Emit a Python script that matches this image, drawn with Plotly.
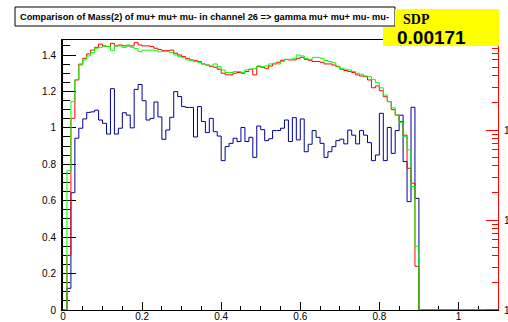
import plotly.graph_objects as go

# ---------------- data (bin width 0.01, bins start at 0) ----------------
bin_width = 0.01

blue_values = [
    0.0, 0.119, 0.644, 0.943, 0.998, 1.049, 1.085, 1.088, 1.097, 1.043,
    1.025, 0.966, 1.215, 0.966, 0.998, 1.083, 1.07, 1.0, 1.211, 1.238,
    1.149, 1.043, 1.052, 1.142, 1.06, 0.937, 0.988, 1.058, 1.199, 1.172,
    1.117, 1.112, 1.112, 0.95, 1.117, 1.035, 0.974, 1.052, 0.979, 0.955,
    0.82, 0.897, 0.915, 0.943, 0.925, 1.002, 0.925, 0.948, 0.838, 1.01,
    0.99, 0.93, 0.94, 0.985, 0.985, 0.998, 1.043, 0.925, 1.056, 0.934,
    1.049, 0.869, 0.91, 0.985, 0.948, 0.915, 0.838, 0.869, 0.897, 0.93,
    0.938, 0.912, 0.988, 0.96, 0.912, 0.985, 0.96, 0.919, 0.82, 0.851,
    1.08, 0.82, 1.002, 0.86, 0.985, 1.07, 0.815, 0.595, 1.113, 0.613,
    0, 0, 0, 0, 0, 0, 0, 0, 0, 0,
    0, 0, 0, 0, 0, 0, 0, 0, 0, 0,
]

red_values = [
    0.0, 0.30, 1.052, 1.263, 1.35, 1.382, 1.406, 1.427, 1.442, 1.46,
    1.45, 1.446, 1.464, 1.45, 1.455, 1.45, 1.45, 1.45, 1.468, 1.455,
    1.45, 1.45, 1.446, 1.437, 1.43, 1.424, 1.424, 1.427, 1.41, 1.4,
    1.391, 1.382, 1.373, 1.369, 1.364, 1.351, 1.345, 1.336, 1.333, 1.322,
    1.3, 1.291, 1.291, 1.3, 1.304, 1.3, 1.309, 1.322, 1.291, 1.336,
    1.333, 1.327, 1.34, 1.351, 1.36, 1.371, 1.376, 1.373, 1.373, 1.382,
    1.387, 1.376, 1.371, 1.364, 1.364, 1.36, 1.351, 1.351, 1.345, 1.336,
    1.322, 1.315, 1.309, 1.304, 1.291, 1.285, 1.281, 1.263, 1.22, 1.23,
    1.204, 1.171, 1.144, 1.10, 1.07, 1.035, 0.96, 0.778, 0.696, 0.24,
    0, 0, 0, 0, 0, 0, 0, 0, 0, 0,
    0, 0, 0, 0, 0, 0, 0, 0, 0, 0,
]

green_values = [
    0.0, 0.765, 1.144, 1.265, 1.345, 1.373, 1.395, 1.413, 1.437, 1.442,
    1.446, 1.446, 1.424, 1.45, 1.45, 1.442, 1.455, 1.442, 1.435, 1.418,
    1.427, 1.427, 1.427, 1.424, 1.418, 1.42, 1.42, 1.413, 1.4, 1.391,
    1.385, 1.373, 1.371, 1.364, 1.36, 1.351, 1.345, 1.34, 1.351, 1.336,
    1.318, 1.304, 1.304, 1.309, 1.309, 1.304, 1.318, 1.322, 1.327, 1.34,
    1.336, 1.34, 1.351, 1.355, 1.351, 1.364, 1.376, 1.376, 1.382, 1.4,
    1.395, 1.382, 1.376, 1.387, 1.387, 1.382, 1.37, 1.364, 1.358, 1.339,
    1.327, 1.322, 1.318, 1.309, 1.3, 1.295, 1.285, 1.281, 1.265, 1.248,
    1.22, 1.18, 1.144, 1.11, 1.07, 1.03, 0.952, 0.879, 0.678, 0.35,
    0, 0, 0, 0, 0, 0, 0, 0, 0, 0,
    0, 0, 0, 0, 0, 0, 0,
]

x_tick_vals = [0, 0.2, 0.4, 0.6, 0.8, 1.0]
x_tick_text = ["0", "0.2", "0.4", "0.6", "0.8", "1"]
y_tick_vals = [0, 0.2, 0.4, 0.6, 0.8, 1.0, 1.2, 1.4]
y_tick_text = ["0", "0.2", "0.4", "0.6", "0.8", "1", "1.2", "1.4"]
right_tick_vals = [1, 10, 100]
right_tick_text = ["1", "10", "100"]
right_minor_vals = [2, 3, 4, 5, 6, 7, 8, 9,
                    20, 30, 40, 50, 60, 70, 80, 90,
                    200, 300, 400, 500, 600, 700, 800, 900]

title_text = "Comparison of Mass(2) of mu+ mu+ mu- in channel 26 => gamma mu+ mu+ mu- mu-"
sdp_label = "SDP"
sdp_value = "0.00171"

# ---------------- layout geometry ----------------
W, H = 508, 322
ML, MR, MT, MB = 63, 10, 40, 12
PW, PH = W - ML - MR, H - MT - MB


def px(xp):
    return (xp - ML) / PW


def py(yp):
    return (H - MB - yp) / PH


def steps(values):
    edges = [round(i * bin_width, 4) for i in range(len(values) + 1)]
    return edges, list(values) + [values[-1]]


fig = go.Figure()
for vals, col in [(blue_values, "#000099"), (red_values, "#ff0000"), (green_values, "#00ff00")]:
    xs, ys = steps(vals)
    fig.add_trace(go.Scatter(x=xs, y=ys, mode="lines", line=dict(color=col, width=1, shape="hv"),
                             showlegend=False, hoverinfo="skip"))

axis_font = dict(family="Liberation Sans, Arial, sans-serif", size=10, color="black")

fig.update_layout(
    width=W, height=H,
    margin=dict(l=ML, r=MR, t=MT, b=MB, pad=0, autoexpand=False),
    paper_bgcolor="white", plot_bgcolor="white",
    showlegend=False,
    xaxis=dict(range=[0, 1.1], showgrid=False, zeroline=False, automargin=False,
               showline=True, linecolor="black", linewidth=1, mirror=True,
               ticks="inside", ticklen=8, tickcolor="black", tickwidth=1,
               tickvals=x_tick_vals, ticktext=x_tick_text, tickfont=axis_font,
               ticklabelstandoff=-3,
               minor=dict(ticks="inside", ticklen=4, tickcolor="black", dtick=0.05, tick0=0),
               layer="below traces"),
    yaxis=dict(range=[0, PH / 182.14], showgrid=False, zeroline=False, automargin=False,
               showline=True, linecolor="black", linewidth=2,
               ticks="inside", ticklen=13, tickcolor="black", tickwidth=1,
               tickvals=y_tick_vals, ticktext=y_tick_text, tickfont=axis_font,
               ticklabelstandoff=3,
               minor=dict(ticks="inside", ticklen=7, tickcolor="black", dtick=0.05, tick0=0),
               layer="below traces"),
    yaxis2=dict(overlaying="y", side="right", type="log", range=[0, 3], automargin=False,
                showgrid=False, zeroline=False, showline=True, linecolor="#ff0000", linewidth=1,
                ticks="inside", ticklen=12, tickcolor="#ff0000", tickwidth=1,
                ticklabelstandoff=3,
                tickvals=right_tick_vals, ticktext=right_tick_text, tickfont=axis_font),
    yaxis3=dict(overlaying="y", side="right", type="log", range=[0, 3], automargin=False,
                showgrid=False, zeroline=False, showline=False,
                ticks="inside", ticklen=6, tickcolor="#ff0000", tickwidth=1,
                tickvals=right_minor_vals, showticklabels=False),
)

# empty traces so the right-hand axes are drawn
fig.add_trace(go.Scatter(x=[], y=[], yaxis="y2", showlegend=False))
fig.add_trace(go.Scatter(x=[], y=[], yaxis="y3", showlegend=False))

shapes = [
    dict(type="rect", xref="paper", yref="paper", x0=px(15), x1=px(395), y0=py(26), y1=py(7),
         line=dict(color="black", width=1), fillcolor="white", layer="above"),
    dict(type="rect", xref="paper", yref="paper", x0=px(395), x1=px(499), y0=py(46), y1=py(9),
         line=dict(width=0), fillcolor="#ffff00", layer="above"),
    dict(type="rect", xref="paper", yref="paper", x0=px(383), x1=px(499), y0=py(46), y1=py(27),
         line=dict(width=0), fillcolor="#ffff00", layer="above"),
]
fig.update_layout(shapes=shapes)

fig.add_annotation(x=px(204), y=py(16.5), xref="paper", yref="paper", text="<b>" + title_text + "</b>",
                   showarrow=False, xanchor="center", yanchor="middle",
                   font=dict(family="Liberation Sans, Arial, sans-serif", size=9.25, color="black"))
fig.add_annotation(x=px(401), y=py(19.5), xref="paper", yref="paper", text="<b>" + sdp_label + "</b>",
                   showarrow=False, xanchor="left", yanchor="middle",
                   font=dict(family="Liberation Serif, Times New Roman, serif", size=14, color="black"))
fig.add_annotation(x=px(395), y=py(37.5), xref="paper", yref="paper", text="<b>" + sdp_value + "</b>",
                   showarrow=False, xanchor="left", yanchor="middle",
                   font=dict(family="Liberation Sans, Arial, sans-serif", size=19, color="black"))

fig.write_html("out.html")
